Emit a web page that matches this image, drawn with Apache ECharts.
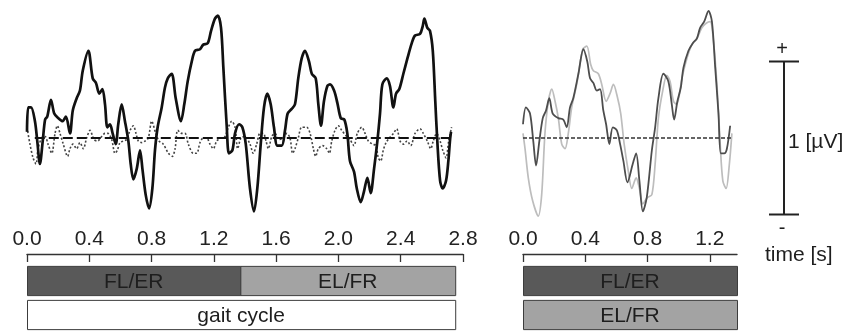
<!DOCTYPE html>
<html>
<head>
<meta charset="utf-8">
<script src="https://cdn.jsdelivr.net/npm/echarts@6/dist/echarts.min.js"></script>
<style>
html,body{margin:0;padding:0;background:#fff}
#chart{width:857px;height:332px}
</style>
</head>
<body>
<div id="chart"></div>
<script>
// time [s], amplitude [uV]
var gaitSolid = [[0.000,0.04],[0.008,0.20],[0.026,0.20],[0.051,0.11],[0.066,-0.02],[0.083,-0.17],[0.101,-0.02],[0.116,0.12],[0.130,0.14],[0.154,0.25],[0.175,0.16],[0.201,0.13],[0.229,0.11],[0.250,0.14],[0.276,0.03],[0.294,0.18],[0.319,0.26],[0.340,0.31],[0.358,0.44],[0.394,0.57],[0.422,0.39],[0.443,0.36],[0.464,0.29],[0.484,0.32],[0.501,0.22],[0.516,0.07],[0.533,0.09],[0.550,0.03],[0.570,-0.04],[0.586,0.09],[0.608,0.22],[0.629,0.11],[0.651,-0.02],[0.666,-0.17],[0.683,-0.27],[0.705,-0.20],[0.726,-0.08],[0.741,-0.20],[0.762,-0.37],[0.784,-0.46],[0.805,-0.33],[0.822,-0.08],[0.839,0.07],[0.865,0.20],[0.886,0.33],[0.904,0.39],[0.929,0.42],[0.955,0.26],[0.989,0.11],[1.010,0.22],[1.032,0.37],[1.058,0.50],[1.079,0.57],[1.111,0.58],[1.132,0.61],[1.161,0.62],[1.182,0.70],[1.207,0.78],[1.225,0.80],[1.246,0.72],[1.261,0.46],[1.283,0.07],[1.297,-0.10],[1.319,-0.08],[1.336,0.03],[1.362,0.09],[1.383,0.07],[1.405,-0.04],[1.432,-0.33],[1.458,-0.48],[1.479,-0.33],[1.501,-0.04],[1.522,0.20],[1.543,0.29],[1.565,0.22],[1.586,0.07],[1.608,-0.05],[1.636,-0.05],[1.657,0.05],[1.674,0.16],[1.700,0.19],[1.721,0.22],[1.742,0.39],[1.764,0.52],[1.785,0.57],[1.811,0.50],[1.829,0.42],[1.854,0.39],[1.871,0.22],[1.888,0.08],[1.907,0.24],[1.929,0.34],[1.946,0.35],[1.972,0.31],[1.993,0.23],[2.015,0.13],[2.038,0.12],[2.057,0.03],[2.074,-0.15],[2.100,-0.22],[2.118,-0.33],[2.143,-0.42],[2.164,-0.35],[2.186,-0.26],[2.207,-0.36],[2.229,-0.20],[2.250,-0.02],[2.267,0.16],[2.282,0.35],[2.310,0.39],[2.331,0.34],[2.353,0.20],[2.370,0.29],[2.391,0.32],[2.417,0.42],[2.443,0.52],[2.471,0.62],[2.492,0.67],[2.524,0.68],[2.541,0.73],[2.552,0.78],[2.571,0.72],[2.588,0.70],[2.606,0.57],[2.622,0.24],[2.635,-0.02],[2.653,-0.28],[2.670,-0.33],[2.691,-0.28],[2.706,-0.15],[2.717,-0.01],[2.723,0.04]];

var gaitDotted = [[0.000,0.07],[0.019,-0.04],[0.039,-0.13],[0.058,-0.17],[0.071,-0.07],[0.094,0.00],[0.116,0.01],[0.135,-0.04],[0.159,-0.10],[0.180,0.03],[0.195,0.08],[0.212,0.03],[0.233,-0.04],[0.261,-0.12],[0.276,-0.07],[0.295,-0.04],[0.319,-0.07],[0.340,-0.03],[0.362,-0.07],[0.383,0.00],[0.405,0.05],[0.430,-0.01],[0.452,-0.02],[0.480,0.01],[0.501,0.03],[0.520,0.03],[0.544,-0.01],[0.565,-0.10],[0.580,-0.08],[0.597,-0.03],[0.618,-0.02],[0.640,-0.01],[0.662,0.05],[0.683,0.08],[0.700,0.03],[0.715,-0.02],[0.737,-0.03],[0.758,-0.02],[0.779,0.00],[0.801,0.11],[0.827,0.03],[0.848,-0.02],[0.875,-0.04],[0.908,-0.10],[0.933,-0.12],[0.951,-0.07],[0.968,0.05],[0.994,0.03],[1.015,0.03],[1.036,-0.04],[1.068,-0.10],[1.090,-0.10],[1.111,-0.03],[1.132,0.00],[1.154,0.00],[1.175,-0.04],[1.197,-0.07],[1.218,-0.02],[1.246,0.00],[1.272,0.01],[1.293,0.07],[1.315,0.11],[1.336,0.07],[1.353,-0.07],[1.374,0.00],[1.400,0.01],[1.432,-0.04],[1.453,-0.10],[1.475,-0.04],[1.496,0.03],[1.518,0.03],[1.535,-0.02],[1.550,-0.07],[1.572,0.01],[1.593,0.03],[1.618,-0.01],[1.646,0.00],[1.668,0.03],[1.689,0.00],[1.706,-0.10],[1.721,-0.07],[1.742,0.00],[1.764,0.07],[1.796,0.07],[1.818,0.03],[1.839,-0.07],[1.854,-0.12],[1.871,-0.07],[1.899,-0.05],[1.925,-0.07],[1.942,-0.10],[1.957,-0.02],[1.978,0.05],[1.999,0.08],[2.021,0.05],[2.053,0.01],[2.074,-0.01],[2.100,-0.05],[2.121,0.03],[2.150,0.07],[2.171,0.03],[2.192,-0.02],[2.220,-0.04],[2.241,-0.05],[2.256,-0.13],[2.272,-0.15],[2.288,-0.08],[2.306,-0.03],[2.327,0.00],[2.353,0.03],[2.374,0.06],[2.396,-0.02],[2.417,-0.04],[2.441,-0.02],[2.464,-0.05],[2.492,0.03],[2.524,0.06],[2.545,0.03],[2.571,-0.02],[2.593,-0.07],[2.609,-0.02],[2.631,0.03],[2.653,-0.02],[2.670,-0.08],[2.691,-0.13],[2.708,-0.02],[2.727,0.07]];

var stepDark = [[0.000,0.09],[0.019,0.20],[0.045,0.16],[0.066,-0.02],[0.084,-0.18],[0.105,-0.02],[0.127,0.13],[0.148,0.18],[0.169,0.26],[0.191,0.16],[0.227,0.13],[0.259,0.12],[0.281,0.07],[0.302,0.20],[0.323,0.26],[0.356,0.42],[0.388,0.58],[0.413,0.50],[0.431,0.39],[0.452,0.36],[0.474,0.31],[0.495,0.32],[0.516,0.18],[0.534,0.09],[0.555,-0.04],[0.577,0.07],[0.603,0.05],[0.624,-0.04],[0.645,-0.15],[0.671,-0.29],[0.705,-0.17],[0.727,-0.10],[0.748,-0.28],[0.770,-0.48],[0.795,-0.39],[0.828,-0.08],[0.849,0.07],[0.870,0.26],[0.902,0.42],[0.934,0.37],[0.956,0.22],[0.971,0.12],[0.992,0.24],[1.014,0.33],[1.031,0.46],[1.063,0.57],[1.091,0.62],[1.117,0.65],[1.138,0.72],[1.164,0.76],[1.192,0.83],[1.214,0.76],[1.235,0.46],[1.256,0.16],[1.271,-0.10],[1.293,-0.10],[1.310,-0.07],[1.331,0.08]];

var stepLight = [[0.000,0.03],[0.013,-0.07],[0.034,-0.26],[0.062,-0.41],[0.098,-0.51],[0.120,-0.37],[0.141,0.03],[0.163,0.24],[0.185,0.32],[0.206,0.24],[0.227,0.13],[0.249,-0.04],[0.270,-0.07],[0.291,0.03],[0.313,0.20],[0.345,0.35],[0.384,0.58],[0.410,0.60],[0.435,0.48],[0.452,0.44],[0.484,0.42],[0.506,0.35],[0.534,0.24],[0.559,0.29],[0.581,0.35],[0.606,0.27],[0.628,0.16],[0.650,-0.04],[0.677,-0.22],[0.699,-0.33],[0.727,-0.26],[0.748,-0.33],[0.770,-0.43],[0.799,-0.39],[0.828,-0.37],[0.849,-0.17],[0.870,0.13],[0.898,0.31],[0.924,0.41],[0.945,0.37],[0.967,0.24],[0.988,0.22],[1.021,0.39],[1.053,0.52],[1.085,0.61],[1.117,0.65],[1.149,0.72],[1.177,0.75],[1.203,0.76],[1.224,0.63],[1.246,0.35],[1.267,-0.04],[1.284,-0.28],[1.305,-0.33],[1.326,-0.17],[1.342,0.03]];

var gaitBaseline = [[0.05,0],[2.72,0]];
var stepBaseline = [[0,0],[1.34,0]];

var stepTicks = [0, 0.4, 0.8, 1.2];

// [row, start s, end s]
var gaitBars = [[0, 0, 1.37], [0, 1.37, 2.75], [1, 0, 2.75]];
var gaitBarNames = ['FL/ER', 'EL/FR', 'gait cycle'];
var stepBars = [[0, 0, 1.375], [1, 0, 1.375]];
var stepBarNames = ['FL/ER', 'EL/FR'];

// scale bar [x, low, high] in uV
var scaleBar = [[0.5, -0.5, 0.5]];

var FONT = '"Liberation Sans", Arial, sans-serif';
var barFill = {'FL/ER': '#595959', 'EL/FR': '#a3a3a3', 'gait cycle': '#ffffff'};

function barRenderer(names) {
  return function (params, api) {
    var row = api.value(0);
    var s = api.coord([api.value(1), row]);
    var e = api.coord([api.value(2), row]);
    var h = api.size([0, 1])[1] * 0.86;
    var label = names[params.dataIndex];
    return {
      type: 'group',
      children: [{
        type: 'rect',
        shape: {x: s[0] + 0.5, y: s[1] - h / 2, width: e[0] - s[0], height: h},
        style: {fill: barFill[label], stroke: '#3c3c3c', lineWidth: 1}
      }, {
        type: 'text',
        style: {text: label, x: (s[0] + e[0]) / 2, y: s[1] + 1, align: 'center', verticalAlign: 'middle',
                font: '21px ' + FONT, fill: '#1e1e1e'}
      }]
    };
  };
}

var hidden = {show: false};
var yRange = {type: 'value', min: -0.6, max: 0.9, show: false};
var timeAxis = {
  type: 'value', position: 'top', offset: 10, min: 0,
  axisLine: {show: true, onZero: false, lineStyle: {color: '#333', width: 1.4}},
  axisTick: {show: true, inside: true, length: 8, lineStyle: {color: '#333', width: 1.3}},
  axisLabel: {margin: 4, fontSize: 21, fontFamily: FONT, color: '#222',
              formatter: function (v) { return v.toFixed(1); }},
  splitLine: hidden
};

var option = {
  animation: false,
  backgroundColor: '#fff',
  grid: [
    {left: 27, width: 436, top: 0.3, height: 229.5},   // gait signal
    {left: 27, width: 436, top: 264, height: 68},      // gait axis + bars
    {left: 523, width: 214, top: 0.3, height: 229.5},  // step signal
    {left: 523, width: 214, top: 264, height: 68},     // step axis + bars
    {left: 769, width: 30, top: 0.3, height: 229.5}    // scale bar
  ],
  xAxis: [
    {gridIndex: 0, type: 'value', min: 0, max: 2.8, show: false},
    Object.assign({}, timeAxis, {gridIndex: 1, max: 2.8, interval: 0.4}),
    {gridIndex: 2, type: 'value', min: 0, max: 1.375, show: false},
    Object.assign({}, timeAxis, {gridIndex: 3, max: 1.375,
      axisTick: Object.assign({}, timeAxis.axisTick, {customValues: stepTicks}),
      axisLabel: Object.assign({}, timeAxis.axisLabel, {customValues: stepTicks})}),
    {gridIndex: 4, type: 'value', min: 0, max: 1, show: false}
  ],
  yAxis: [
    Object.assign({gridIndex: 0}, yRange),
    {gridIndex: 1, type: 'category', data: ['0', '1'], inverse: true, show: false},
    Object.assign({gridIndex: 2}, yRange),
    {gridIndex: 3, type: 'category', data: ['0', '1'], inverse: true, show: false},
    Object.assign({gridIndex: 4}, yRange)
  ],
  series: [
    {type: 'line', xAxisIndex: 0, yAxisIndex: 0, data: gaitDotted, showSymbol: false, smooth: 0.3,
     lineStyle: {color: '#444', width: 1.6, type: [2, 2]}},
    {type: 'line', xAxisIndex: 0, yAxisIndex: 0, data: gaitBaseline, showSymbol: false,
     lineStyle: {color: '#111', width: 2, type: [10, 4]}},
    {type: 'line', xAxisIndex: 0, yAxisIndex: 0, data: gaitSolid, showSymbol: false, smooth: 0.3,
     lineStyle: {color: '#111', width: 2.7}},
    {type: 'custom', xAxisIndex: 1, yAxisIndex: 1, data: gaitBars, encode: {x: [1, 2], y: 0},
     renderItem: barRenderer(gaitBarNames)},
    {type: 'line', xAxisIndex: 2, yAxisIndex: 2, data: stepLight, showSymbol: false, smooth: 0.3,
     lineStyle: {color: '#bdbdbd', width: 1.7}},
    {type: 'line', xAxisIndex: 2, yAxisIndex: 2, data: stepDark, showSymbol: false, smooth: 0.3,
     lineStyle: {color: '#4d4d4d', width: 1.8}},
    {type: 'line', xAxisIndex: 2, yAxisIndex: 2, data: stepBaseline, showSymbol: false,
     lineStyle: {color: '#333', width: 1.5, type: [4, 2]}},
    {type: 'custom', xAxisIndex: 3, yAxisIndex: 3, data: stepBars, encode: {x: [1, 2], y: 0},
     renderItem: barRenderer(stepBarNames)},
    {type: 'custom', xAxisIndex: 4, yAxisIndex: 4, data: scaleBar, encode: {x: 0, y: [1, 2]},
     renderItem: function (params, api) {
       var x = api.value(0), lo = api.value(1), hi = api.value(2);
       var t = api.coord([x, hi]), b = api.coord([x, lo]);
       var tl = api.coord([0, hi]), tr = api.coord([1, hi]);
       var bl = api.coord([0, lo]), br = api.coord([1, lo]);
       var st = {stroke: '#222', lineWidth: 2};
       return {type: 'group', children: [
         {type: 'line', shape: {x1: t[0], y1: t[1], x2: b[0], y2: b[1]}, style: st},
         {type: 'line', shape: {x1: tl[0], y1: tl[1], x2: tr[0], y2: tr[1]}, style: st},
         {type: 'line', shape: {x1: bl[0], y1: bl[1], x2: br[0], y2: br[1]}, style: st}
       ]};
     }}
  ],
  graphic: [
    {type: 'text', x: 782, y: 49, style: {text: '+', align: 'center', verticalAlign: 'middle', font: '20px ' + FONT, fill: '#1e1e1e'}},
    {type: 'text', x: 782, y: 228, style: {text: '-', align: 'center', verticalAlign: 'middle', font: '20px ' + FONT, fill: '#1e1e1e'}},
    {type: 'text', x: 788, y: 142, style: {text: '1 [µV]', align: 'left', verticalAlign: 'middle', font: '21px ' + FONT, fill: '#1e1e1e'}},
    {type: 'text', x: 765, y: 255, style: {text: 'time [s]', align: 'left', verticalAlign: 'middle', font: '21px ' + FONT, fill: '#1e1e1e'}}
  ]
};

var chart = echarts.init(document.getElementById('chart'));
chart.setOption(option);
window.addEventListener('resize', function () {
  chart.resize();
});
</script>
</body>
</html>
